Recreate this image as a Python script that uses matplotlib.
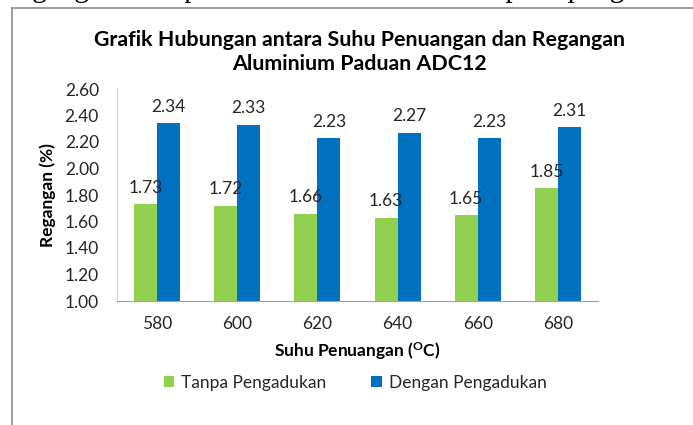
import matplotlib
matplotlib.use("Agg")
import matplotlib.pyplot as plt
import numpy as np
from matplotlib.lines import Line2D

plt.rcParams['font.family'] = ['Lato', 'DejaVu Sans']
plt.rcParams['mathtext.fontset'] = 'custom'
plt.rcParams['mathtext.rm'] = 'Lato'
plt.rcParams['mathtext.bf'] = 'Lato:bold'

categories = ['580', '600', '620', '640', '660', '680']
tanpa = [1.73, 1.72, 1.66, 1.63, 1.65, 1.85]
dengan = [2.34, 2.33, 2.23, 2.27, 2.23, 2.31]
series_names = ['Tanpa Pengadukan', 'Dengan Pengadukan']
yticks = [1.00, 1.20, 1.40, 1.60, 1.80, 2.00, 2.20, 2.40, 2.60]

green = '#92D050'
blue = '#0070C0'
txt = '#262626'

W, H = 693, 425
fig = plt.figure(figsize=(W / 100, H / 100), dpi=100)

# document text clipped at the top
fig.text(0.0, 1 + 3 / H, 'Regangan tarik paduan aluminium ADC12 pada pengecoran',
         fontfamily='Liberation Serif', fontsize=21, va='baseline', ha='left', color='black')

# chart frame
fig.add_artist(Line2D([12 / W, 12 / W], [0, 1 - 8 / H], transform=fig.transFigure,
                      color='#8a8a8a', lw=1.2))
fig.add_artist(Line2D([12 / W, 1], [1 - 8 / H, 1 - 8 / H], transform=fig.transFigure,
                      color='#8a8a8a', lw=1.2))

ax = fig.add_axes([117 / W, 1 - 301 / H, (598 - 117) / W, (301 - 89) / H])
x = np.arange(len(categories))
bw = 0.2875
b1 = ax.bar(x - bw / 2, tanpa, bw, color=green, label=series_names[0])
b2 = ax.bar(x + bw / 2, dengan, bw, color=blue, label=series_names[1])

for bars, vals in ((b1, tanpa), (b2, dengan)):
    for b, v in zip(bars, vals):
        ax.annotate(f'{v:.2f}', (b.get_x() + b.get_width() / 2, v),
                    xytext=(0, 6), textcoords='offset points',
                    ha='center', va='bottom', fontsize=12.5, color=txt)

ax.set_xlim(-0.5, len(categories) - 0.5)
ax.set_ylim(1.0, 2.6)
ax.set_yticks(yticks)
ax.set_yticklabels([f'{t:.2f}' for t in yticks])
ax.set_xticks(x)
ax.set_xticklabels(categories)
ax.tick_params(axis='both', length=0, labelsize=12.5, colors=txt)
ax.tick_params(axis='y', pad=13)
ax.tick_params(axis='x', pad=11)
for s in ['top', 'right']:
    ax.spines[s].set_visible(False)
ax.spines['left'].set_color('#d0d0d0')
ax.spines['bottom'].set_color('#a0a0a0')

ax.set_ylabel('Regangan (%)', fontsize=12.5, fontweight='bold', labelpad=6, color='black')
ax.set_xlabel(r'Suhu Penuangan ($\mathbf{^{O}}$C)', fontsize=12.5, fontweight='bold',
              labelpad=6, color='black')

fig.text(360 / W, 1 - 40 / H, 'Grafik Hubungan antara Suhu Penuangan dan Regangan',
         ha='center', va='center', fontsize=15.4, fontweight='bold')
fig.text(360 / W, 1 - 64 / H, 'Aluminium Paduan ADC12',
         ha='center', va='center', fontsize=15.4, fontweight='bold')

fig.legend(handles=[b1, b2], loc='center', bbox_to_anchor=(355 / W, 1 - 383 / H),
           ncol=2, frameon=False, fontsize=12.5, handlelength=0.6, handleheight=0.6,
           columnspacing=2.6, handletextpad=0.4, labelcolor=txt)

fig.savefig('out.png', dpi=100)
